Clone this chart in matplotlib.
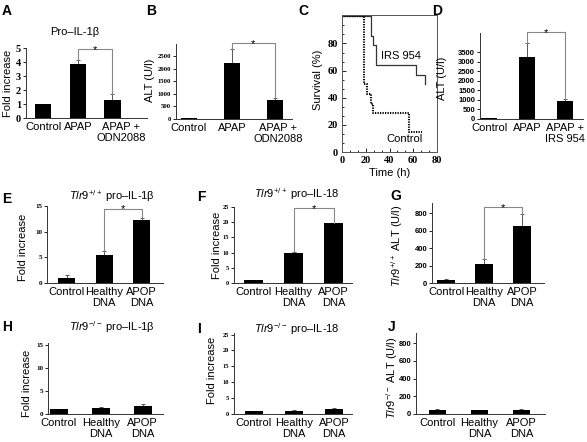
import matplotlib.pyplot as plt
from matplotlib.ticker import AutoMinorLocator
from matplotlib.transforms import ScaledTranslation

plt.rcParams['font.family'] = ['Liberation Sans', 'DejaVu Sans']
plt.rcParams['mathtext.fontset'] = 'custom'
plt.rcParams['mathtext.rm'] = 'Liberation Sans'
plt.rcParams['mathtext.it'] = 'Liberation Sans:italic'
plt.rcParams['mathtext.bf'] = 'Liberation Sans:bold'

# ── Data ──────────────────────────────────────────────
apap_cats = ["Control", "APAP", "APAP +\nODN2088"]
irs_cats  = ["Control", "APAP", "APAP +\nIRS 954"]
dna_cats  = ["Control", "Healthy\nDNA", "APOP\nDNA"]

a_vals = [1.0, 3.85, 1.3]
a_errs = [0.0, 0.3, 0.45]
b_vals = [50, 2220, 770]
b_errs = [0, 560, 80]
d_vals = [60, 3250, 920]
d_errs = [0, 730, 120]

# survival curves (time in h, survival in %)
irs_time  = [0, 24.5, 26.5, 29, 62, 70]
irs_surv  = [100, 85.7, 78.6, 64.3, 57.1, 50]
ctrl_time = [0, 18.5, 21, 24, 26.5, 56, 67]
ctrl_surv = [100, 50, 42.9, 35.7, 28.6, 15, 15]

e_vals = [1.0, 5.5, 12.3]
e_errs = [0.5, 0.8, 0.3]
f_vals = [1.0, 9.8, 19.6]
f_errs = [0.1, 0.5, 0.3]
g_vals = [35, 220, 650]
g_errs = [8, 50, 140]
h_vals = [1.0, 1.2, 1.7]
h_errs = [0.1, 0.3, 0.4]
i_vals = [1.0, 1.0, 1.6]
i_errs = [0.1, 0.2, 0.2]
j_vals = [50, 40, 45]
j_errs = [5, 8, 8]
# ──────────────────────────────────────────────────────

W, H = 587, 442
fig = plt.figure(figsize=(W / 100, H / 100), dpi=100)

SERIF_B = dict(family='Liberation Serif', weight='bold')
SANS_B = dict(family='Liberation Sans', weight='bold')


def add_ax(left, right, top, bottom):
    return fig.add_axes([left / W, 1 - bottom / H, (right - left) / W, (bottom - top) / H])


def ftext(x, y, s, **kw):
    fig.text(x / W, 1 - y / H, s, **kw)


def letter(x, y, s):
    ftext(x, y, s, fontsize=10, fontweight='bold', ha='left', va='center')


def shift_label(ax, idx, dx_px):
    lab = ax.get_xticklabels()[idx]
    lab.set_transform(lab.get_transform() + ScaledTranslation(dx_px / 100, 0, fig.dpi_scale_trans))


def bar_panel(box, cats, vals, errs, ylim, yticks, xlim, width, tfont, tsize):
    ax = add_ax(*box)
    x = list(range(len(cats)))
    ax.bar(x, vals, width=width, color='black', zorder=2)
    ax.errorbar(x, vals, yerr=[[0] * len(errs), errs], fmt='none', ecolor='#555',
                elinewidth=0.7, capsize=1.5, capthick=0.7, zorder=1)
    ax.set_xlim(*xlim)
    ax.set_ylim(*ylim)
    ax.set_yticks(yticks)
    ax.set_xticks(x)
    ax.set_xticklabels(cats, fontsize=8, linespacing=1.05)
    for lab in ax.get_yticklabels():
        lab.set(fontsize=tsize, **tfont)
    ax.tick_params(axis='x', length=0, pad=3)
    ax.tick_params(axis='y', length=2, width=0.6, pad=1.5)
    for s in ['top', 'right']:
        ax.spines[s].set_visible(False)
    for s in ['left', 'bottom']:
        ax.spines[s].set_linewidth(0.7)
        ax.spines[s].set_color('#333')
    return ax


def bracket(ax, vals, errs, i, j, y):
    lo_i = vals[i] + errs[i]
    lo_j = vals[j] + errs[j]
    ax.plot([i, i, j, j], [lo_i, y, y, lo_j], color='#888', lw=0.8, clip_on=False, zorder=3)
    ax.annotate("*", xy=((i + j) / 2, y), xytext=(0, -2.5), textcoords='offset points',
                ha='center', va='baseline', fontsize=8, annotation_clip=False)


# A
ax = bar_panel((26, 147, 48, 118), apap_cats, a_vals, a_errs, (0, 5), range(0, 6),
               (-0.5, 3.0), 0.47, SERIF_B, 7.5)
shift_label(ax, 2, 9)
bracket(ax, a_vals, a_errs, 1, 2, 4.9)
ftext(75, 32, "Pro–IL-1β", fontsize=8, ha='center', va='center')
ftext(8, 83, "Fold increase", fontsize=8, rotation=90, ha='center', va='center')
letter(2, 11, "A")

# B
ax = bar_panel((176, 292, 44, 119), apap_cats, b_vals, b_errs, (0, 3000), range(0, 3000, 500),
               (-0.3, 2.4), 0.36, SERIF_B, 4.8)
shift_label(ax, 2, 3)
bracket(ax, b_vals, b_errs, 1, 2, 3020)
ftext(150, 80, "ALT (U/l)", fontsize=8, rotation=90, ha='center', va='center')
letter(146, 11, "B")

# C
ax = add_ax(342, 437, 15, 152)
ax.step(irs_time, irs_surv, where='post', color='#333', lw=0.9)
ax.step(ctrl_time, ctrl_surv, where='post', color='black', lw=1.5, linestyle=(0, (0.6, 0.6)))
ax.set_xlim(0, 80)
ax.set_ylim(0, 101)
ax.set_xticks(range(0, 81, 20))
ax.set_yticks(range(0, 81, 20))
ax.xaxis.set_minor_locator(AutoMinorLocator(3))
ax.yaxis.set_minor_locator(AutoMinorLocator(3))
ax.tick_params(which='both', direction='in', width=0.6, pad=3)
ax.tick_params(which='major', length=3)
ax.tick_params(which='minor', length=1.5)
for lab in ax.get_xticklabels() + ax.get_yticklabels():
    lab.set(fontsize=7.5, **SERIF_B)
for s in ax.spines.values():
    s.set_linewidth(0.7)
    s.set_color('#555')
ax.text(33, 71, "IRS 954", fontsize=8, ha='left', va='center')
ax.text(37, 9.5, "Control", fontsize=8, ha='left', va='center')
ftext(318, 80, "Survival (%)", fontsize=8, rotation=90, ha='center', va='center')
ftext(390, 173, "Time (h)", fontsize=8, ha='center', va='center')
letter(298, 11, "C")

# D
ax = bar_panel((480, 583, 33, 119), irs_cats, d_vals, d_errs, (0, 4500), range(0, 4000, 500),
               (-0.24, 2.47), 0.42, SANS_B, 5.5)
bracket(ax, d_vals, d_errs, 1, 2, 4540)
ftext(442, 78, "ALT (U/l)", fontsize=8, rotation=90, ha='center', va='center')
letter(432, 11, "D")

# E
ax = bar_panel((47, 163, 206, 283), dna_cats, e_vals, e_errs, (0, 15), range(0, 16, 5),
               (-0.52, 2.57), 0.45, SERIF_B, 5)
bracket(ax, e_vals, e_errs, 1, 2, 14.4)
ftext(112, 196, r"$\mathit{Tlr9}^{+/+}$ pro–IL-1β", fontsize=8, ha='center', va='center')
ftext(23, 247, "Fold increase", fontsize=8, rotation=90, ha='center', va='center')
letter(2, 199, "E")

# F
ax = bar_panel((234, 352, 207, 283), dna_cats, f_vals, f_errs, (0, 25), range(0, 26, 5),
               (-0.49, 2.46), 0.47, SERIF_B, 4.6)
bracket(ax, f_vals, f_errs, 1, 2, 24.6)
ftext(297, 194, r"$\mathit{Tlr9}^{+/+}$ pro–IL-18", fontsize=8, ha='center', va='center')
ftext(217, 245, "Fold increase", fontsize=8, rotation=90, ha='center', va='center')
letter(197, 197, "F")

# G
ax = bar_panel((432, 544, 203, 283), dna_cats, g_vals, g_errs, (0, 915), range(0, 801, 200),
               (-0.37, 2.58), 0.47, SANS_B, 5.5)
bracket(ax, g_vals, g_errs, 1, 2, 868)
ftext(397, 246, r"$\mathit{Tlr9}^{+/+}$ ALT (U/l)", fontsize=8, rotation=90, ha='center', va='center')
letter(390, 196, "G")

# H
ax = bar_panel((48, 163, 343, 414), dna_cats, h_vals, h_errs, (0, 15.4), range(0, 16, 5),
               (-0.26, 2.48), 0.43, SERIF_B, 5)
ftext(112, 327, r"$\mathit{Tlr9}^{-/-}$ pro–IL-1β", fontsize=8, ha='center', va='center')
ftext(27, 383, "Fold increase", fontsize=8, rotation=90, ha='center', va='center')
letter(2, 327, "H")

# I
ax = bar_panel((234, 352, 333, 414), dna_cats, i_vals, i_errs, (0, 25.5), range(0, 26, 5),
               (-0.5, 2.45), 0.45, SERIF_B, 4.6)
ftext(297, 329, r"$\mathit{Tlr9}^{-/-}$ pro–IL-18", fontsize=8, ha='center', va='center')
ftext(212, 370, "Fold increase", fontsize=8, rotation=90, ha='center', va='center')
letter(197, 329, "I")

# J
ax = bar_panel((416, 545, 333, 414), dna_cats, j_vals, j_errs, (0, 913), range(0, 801, 200),
               (-0.51, 2.56), 0.4, SANS_B, 5.5)
ftext(392, 378, r"$\mathit{Tlr9}^{-/-}$ ALT (U/l)", fontsize=8, rotation=90, ha='center', va='center')
letter(388, 327, "J")

fig.savefig("out.png", dpi=100)
